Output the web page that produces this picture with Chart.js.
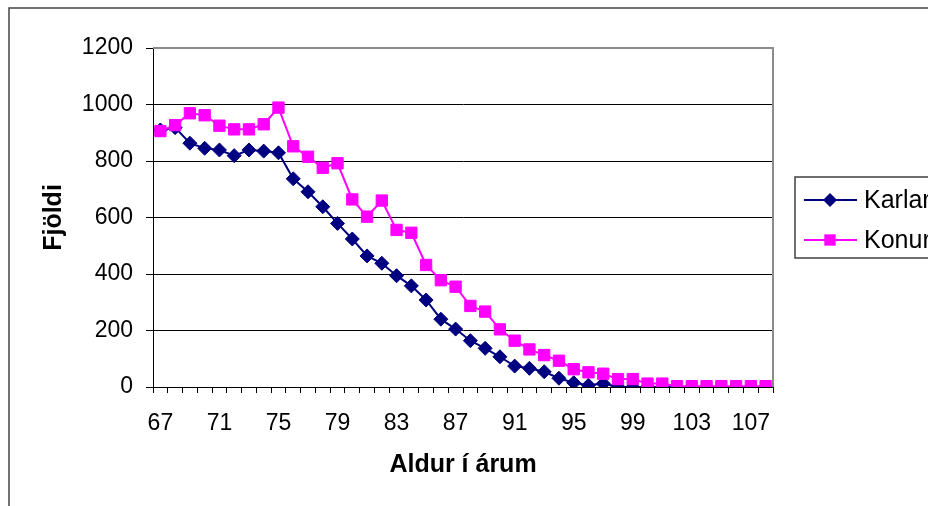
<!DOCTYPE html>
<html>
<head>
<meta charset="utf-8">
<script src="https://cdn.jsdelivr.net/npm/chart.js@4.4.0/dist/chart.umd.min.js"></script>
<style>
  html, body { margin: 0; padding: 0; background: #fff; overflow: hidden; }
  #wrap { position: relative; width: 928px; height: 506px; }
</style>
</head>
<body>
<div id="wrap"><canvas id="chart"></canvas></div>
<script>
// ages 67..108
const ages = ['67', '68', '69', '70', '71', '72', '73', '74', '75', '76', '77', '78', '79', '80',
    '81', '82', '83', '84', '85', '86', '87', '88', '89', '90', '91', '92', '93', '94',
    '95', '96', '97', '98', '99', '100', '101', '102', '103', '104', '105', '106', '107', '108'];
const karlar = [910, 918, 863, 845, 839, 819, 839, 835, 829, 737, 691, 638, 579, 524,
    464, 438, 394, 358, 308, 240, 205, 164, 137, 107, 74, 66, 54, 31,
    15, 6, 12, 1, 0, 0, 1, 0, 0, 0, 0, 0, 0, 0];
const konur = [906, 927, 969, 962, 925, 912, 912, 930, 989, 852, 815, 776, 792, 664,
    603, 660, 556, 546, 432, 378, 355, 287, 267, 204, 164, 133, 113, 93,
    63, 52, 47, 28, 28, 12, 12, 3, 3, 3, 3, 3, 3, 3];
const yTicks = [0, 200, 400, 600, 800, 1000, 1200];
const seriesNames = ['Karlar', 'Konur'];
const xTitle = 'Aldur í árum';
const yTitle = 'Fjöldi';

const FONT = '"Liberation Sans", Arial, sans-serif';

// gray frame around the whole chart + top/right border of the plot area
const frames = {
    id: 'frames',
    afterDraw(chart) {
        const { ctx, chartArea } = chart;
        ctx.save();
        ctx.strokeStyle = '#8c8c8c';
        ctx.lineWidth = 2;
        ctx.beginPath();
        ctx.moveTo(chartArea.left, chartArea.top);
        ctx.lineTo(chartArea.right, chartArea.top);
        ctx.lineTo(chartArea.right, chartArea.bottom);
        ctx.stroke();

        ctx.strokeStyle = '#444';
        ctx.lineWidth = 1.5;
        ctx.strokeRect(9, 8, 1000, 1000);
        ctx.restore();
    }
};

// legend box at the right, cut off by the edge like the original
const sideLegend = {
    id: 'sideLegend',
    afterDraw(chart) {
        const ctx = chart.ctx;
        ctx.save();
        ctx.strokeStyle = '#404040';
        ctx.lineWidth = 1.5;
        ctx.strokeRect(795, 177, 200, 81);
        chart.data.datasets.forEach((ds, i) => {
            const y = 200 + i * 40;
            ctx.strokeStyle = ds.borderColor;
            ctx.lineWidth = 2;
            ctx.beginPath();
            ctx.moveTo(804, y);
            ctx.lineTo(857, y);
            ctx.stroke();
            ctx.fillStyle = ds.backgroundColor;
            ctx.beginPath();
            if (ds.pointStyle === 'rectRot') {
                const r = ds.pointRadius;
                ctx.moveTo(830, y - r);
                ctx.lineTo(830 + r, y);
                ctx.lineTo(830, y + r);
                ctx.lineTo(830 - r, y);
                ctx.closePath();
            } else {
                const s = ds.pointRadius * Math.SQRT1_2;
                ctx.rect(830 - s, y - s, 2 * s, 2 * s);
            }
            ctx.fill();
            ctx.fillStyle = '#000';
            ctx.font = '25px ' + FONT;
            ctx.textBaseline = 'middle';
            ctx.fillText(ds.label, 864, y + 1);
        });
        ctx.restore();
    }
};

new Chart(document.getElementById('chart'), {
    type: 'line',
    data: {
        labels: ages,
        datasets: [{
            label: seriesNames[0],
            data: karlar,
            order: 1,
            borderColor: '#000080',
            backgroundColor: '#000080',
            borderWidth: 2,
            pointStyle: 'rectRot',
            pointRadius: 7,
            pointBorderWidth: 1,
            tension: 0
        }, {
            label: seriesNames[1],
            data: konur,
            order: 0,
            borderColor: '#ff00ff',
            backgroundColor: '#ff00ff',
            borderWidth: 2,
            pointStyle: 'rect',
            pointRadius: 8,
            pointBorderWidth: 1,
            tension: 0
        }]
    },
    options: {
        responsive: true,
        maintainAspectRatio: false,
        animation: false,
        layout: { padding: { left: 35, top: 48, right: 155, bottom: 0 } },
        plugins: {
            legend: { display: false },
            tooltip: { enabled: false }
        },
        scales: {
            x: {
                type: 'category',
                offset: true,
                afterFit: (scale) => { scale.height = 119; },
                grid: {
                    offset: true,
                    drawOnChartArea: false,
                    drawTicks: true,
                    tickLength: 6,
                    tickColor: '#000'
                },
                border: { color: '#000', width: 1 },
                ticks: {
                    autoSkip: false,
                    maxRotation: 0,
                    minRotation: 0,
                    padding: 17,
                    color: '#000',
                    font: { family: FONT, size: 23 },
                    callback: function (value, index) {
                        return index % 4 === 0 ? this.getLabelForValue(value) : '';
                    }
                },
                title: {
                    display: true,
                    text: xTitle,
                    color: '#000',
                    font: { family: FONT, size: 25, weight: 'bold' },
                    padding: { top: 0, bottom: 26 }
                }
            },
            y: {
                min: 0,
                max: 1200,
                afterFit: (scale) => { scale.width = 118; },
                afterBuildTicks: (scale) => { scale.ticks = yTicks.map(v => ({ value: v })); },
                grid: {
                    color: '#000',
                    lineWidth: 1,
                    drawTicks: true,
                    tickLength: 7,
                    tickColor: '#000'
                },
                border: { color: '#000', width: 1 },
                ticks: {
                    padding: 13,
                    color: '#000',
                    font: { family: FONT, size: 23 },
                    callback: (value) => String(value)
                },
                title: {
                    display: true,
                    text: yTitle,
                    color: '#000',
                    font: { family: FONT, size: 25, weight: 'bold' },
                    padding: { top: 4, bottom: 4 }
                }
            }
        }
    },
    plugins: [frames, sideLegend]
});
</script>
</body>
</html>
